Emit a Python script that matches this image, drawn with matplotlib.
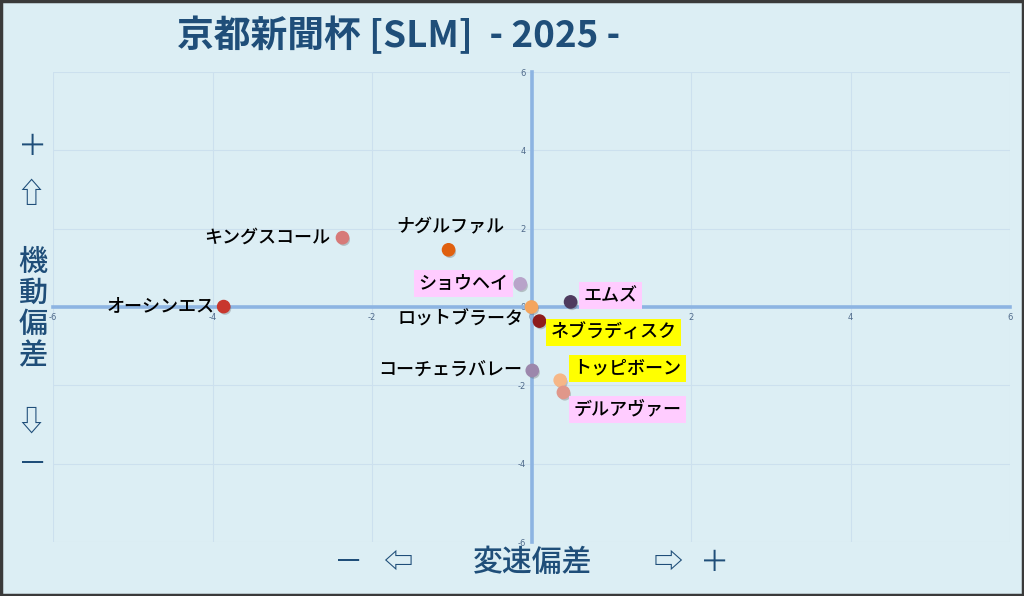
import matplotlib
matplotlib.use("Agg")
import matplotlib.pyplot as plt
import matplotlib.patheffects as pe
from matplotlib.patches import Rectangle

plt.rcParams['font.family'] = ['Noto Sans CJK JP', 'DejaVu Sans']
plt.rcParams['axes.unicode_minus'] = False

# horses: name, speed deviation (x), mobility deviation (y)
names = ['オーシンエス', 'キングスコール', 'ナグルファル', 'ショウヘイ', 'エムズ',
         'ロットブラータ', 'ネブラディスク', 'コーチェラバレー', 'トッピボーン', 'デルアヴァー']
speed_dev = [-3.86, -2.37, -1.04, -0.14, 0.49, 0.0, 0.10, 0.01, 0.36, 0.40]
mobility_dev = [0.01, 1.77, 1.46, 0.59, 0.13, 0.0, -0.36, -1.62, -1.87, -2.18]
colors = ['#C8372D', '#D77A78', '#E0600F', '#B8A3C9', '#4E3B5E',
          '#F4A55E', '#8E1C1C', '#9C87AC', '#F6B787', '#E0978A']
highlight = [None, None, None, '#FFCCFF', '#FFCCFF', None, '#FFFF00', None, '#FFFF00', '#FFCCFF']
# label placement (pixels from the point) and alignment
offsets = [(-9, 0), (-12, 0), (2, 22), (-12, 0), (13, 6),
           (-8, -12), (11, -11), (-10, 0), (13, 12), (10, -17)]
aligns = ['right', 'right', 'center', 'right', 'left',
          'right', 'left', 'right', 'left', 'left']
ticks = [-6, -4, -2, 0, 2, 4, 6]

bg = '#DCEEF4'
navy = '#1F4E79'
axis_blue = '#8DB4E2'

fig = plt.figure(figsize=(10.24, 5.96), dpi=100, facecolor=bg)
ax = fig.add_axes([53 / 1024, 1 - 542 / 596, 957 / 1024, 470 / 596])
ax.set_facecolor(bg)
ax.set_xlim(-6, 6)
ax.set_ylim(-6, 6)
ax.set_xticks(ticks)
ax.set_yticks(ticks)
ax.grid(True, color='#CCE0EE', linewidth=0.8)
ax.set_axisbelow(True)

for side in ['top', 'right']:
    ax.spines[side].set_visible(False)
ax.spines['left'].set_position('zero')
ax.spines['bottom'].set_position('zero')
for side in ['left', 'bottom']:
    ax.spines[side].set_color(axis_blue)
    ax.spines[side].set_linewidth(2.6)
ax.tick_params(length=0, labelsize=6, labelcolor='#4F6A8A', pad=4)
for lbl in ax.get_xticklabels() + ax.get_yticklabels():
    lbl.set_family('DejaVu Sans')

ax.scatter(speed_dev, mobility_dev, s=78, c=colors, zorder=5,
           path_effects=[pe.SimplePatchShadow(offset=(1, -1.5), shadow_rgbFace='#555555', alpha=0.3),
                         pe.Normal()])

for name, x, y, off, ha, hl in zip(names, speed_dev, mobility_dev, offsets, aligns, highlight):
    box = None
    if hl:
        box = dict(boxstyle='square,pad=0.25', facecolor=hl, edgecolor='none')
    ax.annotate(name, (x, y), xytext=off, textcoords='offset pixels',
                ha=ha, va='center', fontsize=13, fontweight='medium',
                color='black', bbox=box, zorder=6)

# title
fig.text(399 / 1024, 1 - 36 / 596, '京都新聞杯 [SLM]  - 2025 -', ha='center', va='center',
         fontsize=26.5, fontweight='bold', color=navy)

# vertical axis caption
fig.text(33 / 1024, 1 - 147 / 596, '＋', ha='center', va='center', fontsize=21, color=navy)
fig.text(31 / 1024, 1 - 195 / 596, '⇧', ha='center', va='center', fontsize=21, color=navy)
fig.text(33 / 1024, 1 - 309 / 596, '機\n動\n偏\n差', ha='center', va='center', fontsize=21,
         color=navy, linespacing=1.0, fontweight='medium')
fig.text(31 / 1024, 1 - 423 / 596, '⇩', ha='center', va='center', fontsize=21, color=navy)
fig.text(33 / 1024, 1 - 465 / 596, '－', ha='center', va='center', fontsize=21, color=navy)

# horizontal axis caption
fig.text(349 / 1024, 1 - 563 / 596, '－', ha='center', va='center', fontsize=21, color=navy)
fig.text(398 / 1024, 1 - 563 / 596, '⇦', ha='center', va='center', fontsize=21, color=navy)
fig.text(533 / 1024, 1 - 563 / 596, '変速偏差', ha='center', va='center', fontsize=21.5,
         color=navy, fontweight='medium')
fig.text(668 / 1024, 1 - 563 / 596, '⇨', ha='center', va='center', fontsize=21, color=navy)
fig.text(715 / 1024, 1 - 563 / 596, '＋', ha='center', va='center', fontsize=21, color=navy)

fig.patches.append(Rectangle((0.001, 0.002), 0.998, 0.996, transform=fig.transFigure,
                             fill=False, edgecolor='#3A3A3A', linewidth=2.5))

fig.savefig('out.png', dpi=100, facecolor=bg)
